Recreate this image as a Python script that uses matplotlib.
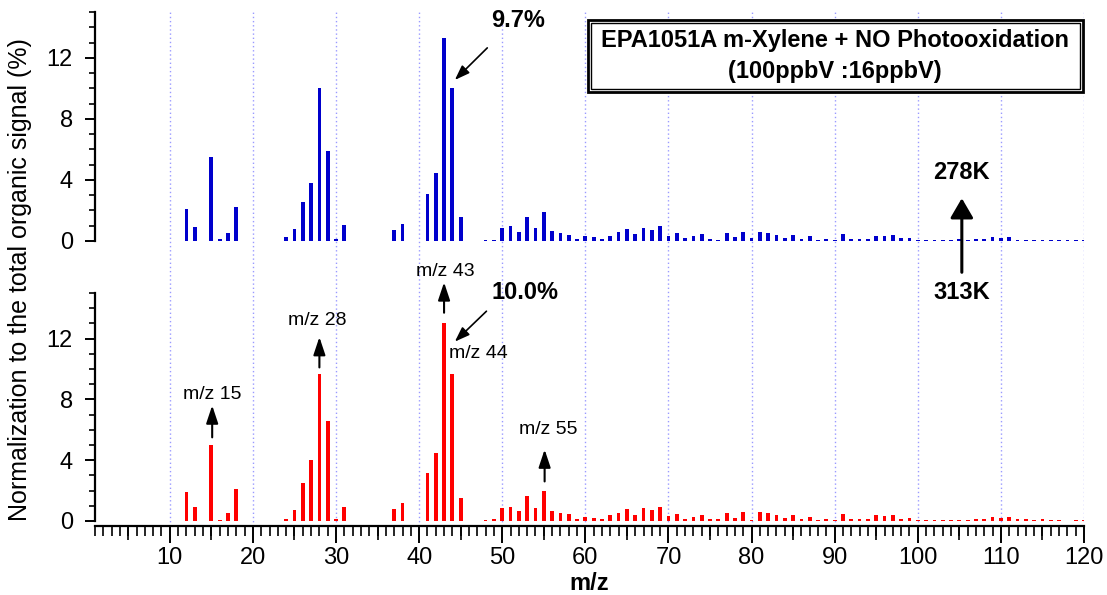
import numpy as np
import matplotlib
matplotlib.use('Agg')
import matplotlib.pyplot as plt
from matplotlib.patches import Rectangle
from matplotlib.ticker import MultipleLocator, NullFormatter

plt.rcParams['font.family'] = ['Liberation Sans', 'DejaVu Sans']

# m/z positions that carry a peak
mz_low = [12, 13, 15, 16, 17, 18, 24, 25, 26, 27, 28, 29, 30, 31, 37, 38, 41, 42, 43, 44, 45]
mz_high = list(range(48, 121))
mz = mz_low + mz_high

# 278K spectrum (top, blue)
top_low = [2.1, 0.9, 5.5, 0.1, 0.55, 2.25, 0.24, 0.8, 2.55, 3.8, 10.0, 5.9, 0.13, 1.03,
           0.72, 1.1, 3.1, 4.45, 13.3, 10.0, 1.6]
top_high = [0.04, 0.09, 0.85, 0.96, 0.59, 1.55, 0.83, 1.92, 0.66, 0.52, 0.42, 0.11,
            0.35, 0.26, 0.11, 0.35, 0.59, 0.77, 0.48, 0.83, 0.72, 0.96, 0.35, 0.52,
            0.17, 0.35, 0.48, 0.11, 0.04, 0.52, 0.28, 0.59, 0.17, 0.59, 0.55, 0.39,
            0.17, 0.39, 0.11, 0.33, 0.04, 0.13, 0.04, 0.48, 0.11, 0.11, 0.15, 0.35,
            0.35, 0.42, 0.17, 0.22, 0.07, 0.07, 0.07, 0.07, 0.04, 0.13, 0.04, 0.11,
            0.15, 0.26, 0.2, 0.28, 0.09, 0.09, 0.04, 0.09, 0.04, 0.04, 0.04, 0.04, 0.04]
top_vals = top_low + top_high

# 313K spectrum (bottom, red)
bot_low = [1.9, 0.9, 5.0, 0.05, 0.5, 2.1, 0.13, 0.7, 2.5, 4.0, 9.7, 6.6, 0.1, 0.9,
           0.76, 1.15, 3.15, 4.5, 13.0, 9.7, 1.5]
bot_high = [0.05, 0.15, 0.87, 0.92, 0.65, 1.63, 0.87, 1.98, 0.65, 0.55, 0.48, 0.15,
            0.28, 0.22, 0.15, 0.41, 0.55, 0.78, 0.41, 0.87, 0.72, 0.92, 0.35, 0.48,
            0.15, 0.28, 0.41, 0.1, 0.1, 0.55, 0.22, 0.6, 0.08, 0.6, 0.55, 0.41,
            0.22, 0.41, 0.1, 0.28, 0.05, 0.1, 0.05, 0.48, 0.15, 0.15, 0.15, 0.41,
            0.35, 0.41, 0.15, 0.22, 0.07, 0.07, 0.05, 0.05, 0.05, 0.07, 0.05, 0.1,
            0.15, 0.28, 0.22, 0.28, 0.1, 0.1, 0.05, 0.15, 0.05, 0.05, 0.03, 0.05, 0.05]
bot_vals = bot_low + bot_high

xmin, xmax = 1, 120
ymin, ymax = -0.35, 15

fig = plt.figure(figsize=(11.07, 5.95), dpi=100)

L, W = 95 / 1107, 989 / 1107
# background axes carrying the dotted vertical grid across both panels
bg = fig.add_axes([L, 0.1155, W, 0.9798 - 0.1155], zorder=0)
bg.set_xlim(xmin, xmax)
bg.xaxis.set_major_locator(MultipleLocator(10))
bg.grid(axis='x', color='#9a9aff', ls=(0, (1, 2)), lw=1)
bg.tick_params(length=0, labelbottom=False, labelleft=False)
bg.set_yticks([])
for s in bg.spines.values():
    s.set_visible(False)

ax1 = fig.add_axes([L, 0.586, W, 0.9798 - 0.586], zorder=2)
ax2 = fig.add_axes([L, 0.1155, W, 0.5076 - 0.1155], zorder=2)

ax1.bar(mz, top_vals, width=0.45, color='#0000cc')
ax2.bar(mz, bot_vals, width=0.45, color='#ff0000')

for ax in (ax1, ax2):
    ax.set_facecolor('none')
    ax.set_xlim(xmin, xmax)
    ax.set_ylim(ymin, ymax)
    ax.spines['top'].set_visible(False)
    ax.spines['right'].set_visible(False)
    ax.spines['left'].set_bounds(0, 15)
    ax.spines['left'].set_linewidth(1.6)
    ax.yaxis.set_major_locator(MultipleLocator(4))
    ax.yaxis.set_minor_locator(MultipleLocator(1))
    ax.tick_params(axis='y', which='major', length=7, width=1.4, labelsize=17, pad=9)
    ax.tick_params(axis='y', which='minor', length=4, width=1.2)

ax1.spines['bottom'].set_visible(False)
ax1.tick_params(axis='x', which='both', bottom=False, labelbottom=False)

ax2.spines['bottom'].set_linewidth(1.6)
ax2.xaxis.set_major_locator(MultipleLocator(10))
ax2.xaxis.set_minor_locator(MultipleLocator(1))
ax2.tick_params(axis='x', which='major', length=12, width=1.4, labelsize=17, pad=3)
ax2.tick_params(axis='x', which='minor', length=7, width=1.2)
sec = ax2.secondary_xaxis('bottom')
sec.set_xticks(np.arange(5, 120, 10))
sec.xaxis.set_major_formatter(NullFormatter())
sec.tick_params(length=10, width=1.2)
sec.spines['bottom'].set_visible(False)

ax2.set_xlabel('m/z', fontsize=17, fontweight='bold', labelpad=2)
fig.text(0.018, 0.53, 'Normalization to the total organic signal (%)', rotation=90,
         ha='center', va='center', fontsize=18)

# arrow styles
up = dict(arrowstyle='-|>,head_length=0.6,head_width=0.2', mutation_scale=18,
          lw=1.5, color='k', shrinkA=0, shrinkB=0)
diag = dict(arrowstyle='-|>,head_length=0.5,head_width=0.18', mutation_scale=18,
            lw=1.2, color='k', shrinkA=0, shrinkB=0)
big = dict(arrowstyle='-|>,head_length=0.6,head_width=0.35', mutation_scale=20,
           lw=2.2, color='k', shrinkA=0, shrinkB=0)

# top panel annotations
ax1.annotate('', xy=(44.3, 10.55), xytext=(48.2, 12.65), arrowprops=diag, annotation_clip=False)
ax1.text(51.9, 14.45, '9.7%', ha='center', va='center', fontsize=17, fontweight='bold')
ax1.annotate('', xy=(105.3, 2.8), xytext=(105.3, -2.05), arrowprops=big, annotation_clip=False)
ax1.text(105.3, 4.5, '278K', ha='center', va='center', fontsize=17, fontweight='bold')
ax1.text(105.3, -3.4, '313K', ha='center', va='center', fontsize=17, fontweight='bold', clip_on=False)

# bottom panel annotations
ax2.annotate('', xy=(44.3, 11.8), xytext=(48.1, 13.8), arrowprops=diag, annotation_clip=False)
ax2.text(52.7, 15.0, '10.0%', ha='center', va='center', fontsize=17, fontweight='bold')
ax2.text(47.1, 11.0, 'm/z 44', ha='center', va='center', fontsize=14)
for x, y0, y1 in [(15.1, 5.5, 7.6), (28.0, 10.1, 12.1), (43.0, 13.7, 15.7), (55.1, 2.6, 4.7)]:
    ax2.annotate('', xy=(x, y1), xytext=(x, y0), arrowprops=up, annotation_clip=False)
labels = [(15.1, 8.3, 'm/z 15'), (27.8, 13.2, 'm/z 28'), (43.1, 16.4, 'm/z 43'), (55.5, 6.0, 'm/z 55')]
for x, y, t in labels:
    ax2.text(x, y, t, ha='center', va='center', fontsize=14, clip_on=False)

# title box with double border
fig.add_artist(Rectangle((588 / 1107, 1 - 92 / 595), 495 / 1107, 72 / 595,
                         transform=fig.transFigure, fc='white', ec='k', lw=2, zorder=3))
fig.add_artist(Rectangle((591 / 1107, 1 - 89 / 595), 489 / 1107, 66 / 595,
                         transform=fig.transFigure, fc='none', ec='k', lw=1, zorder=3))
fig.text(835 / 1107, 1 - 56 / 595, 'EPA1051A m-Xylene + NO Photooxidation\n(100ppbV :16ppbV)',
         ha='center', va='center', fontsize=17, fontweight='bold', linespacing=1.4, zorder=4)

fig.savefig('out.png', dpi=100)
